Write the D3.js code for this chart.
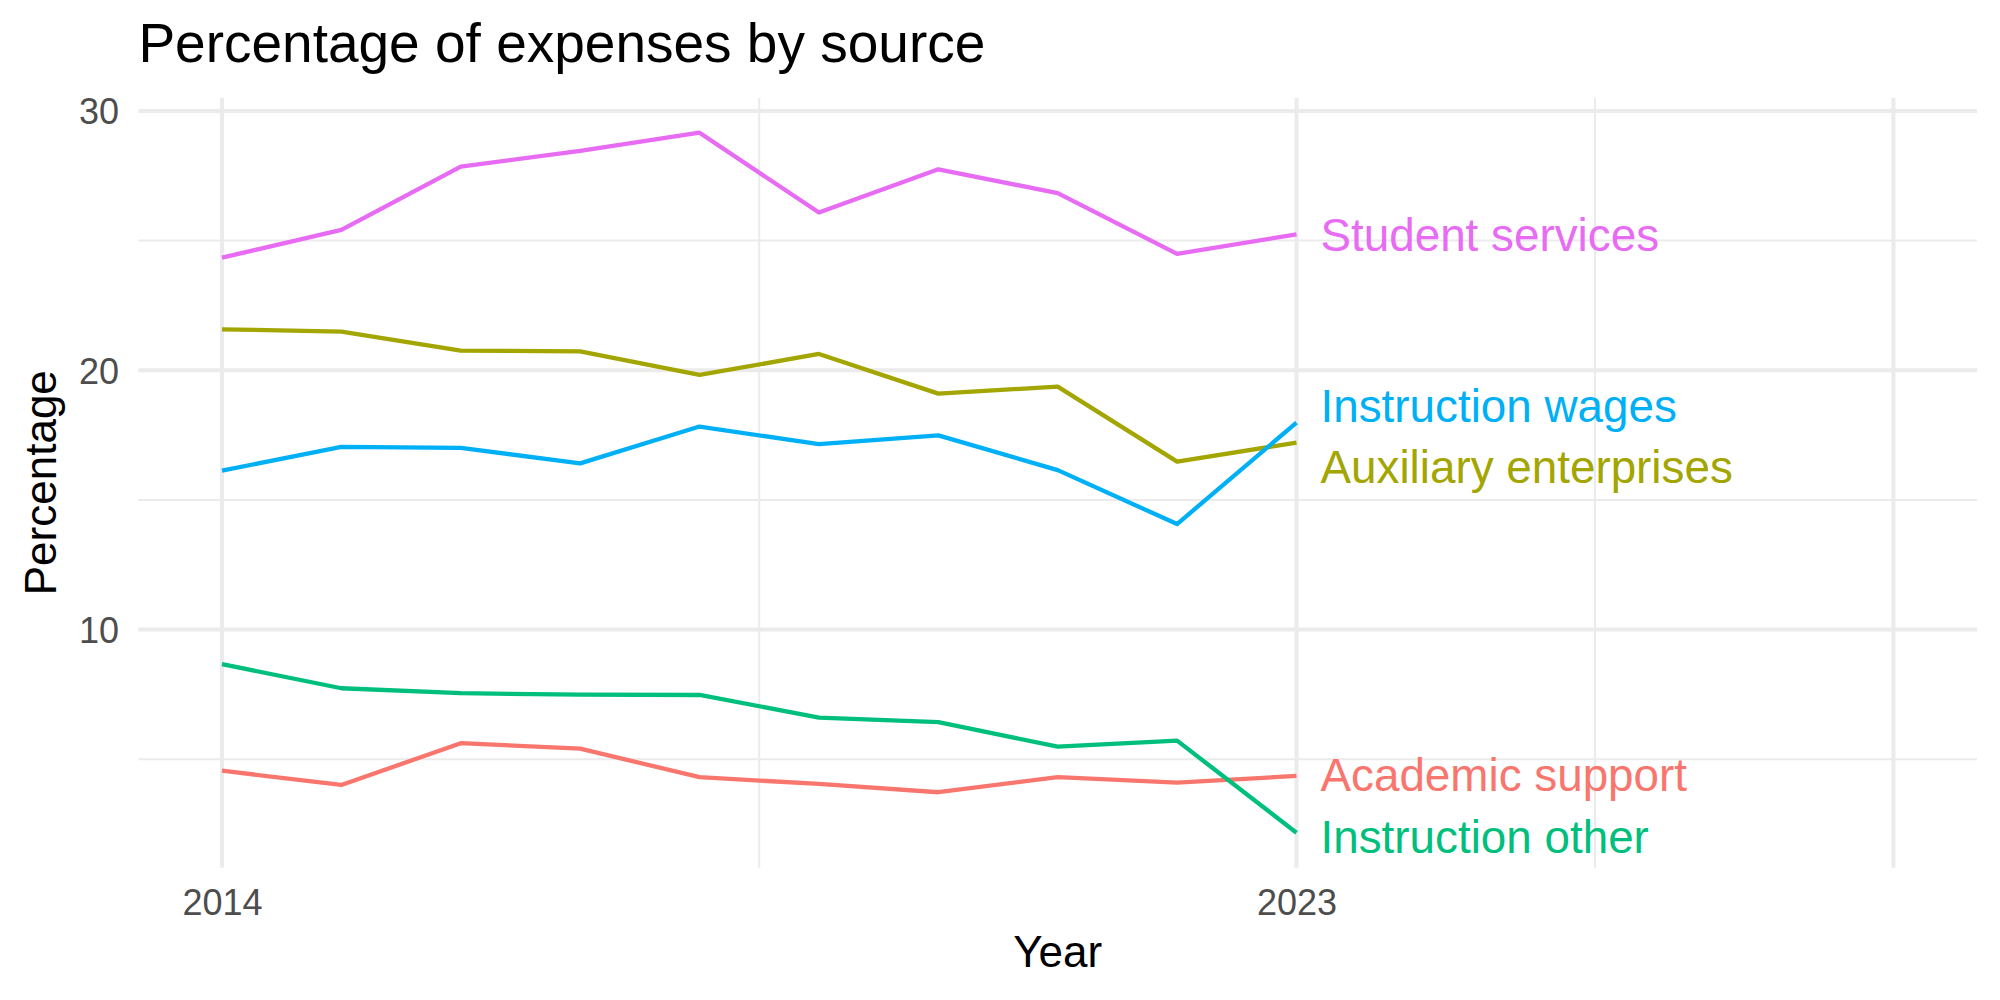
<!DOCTYPE html>
<html>
<head>
<meta charset="utf-8">
<script src="https://cdn.jsdelivr.net/npm/d3@7"></script>
<style>
  body { margin: 0; background: #fff; }
  text { font-family: "Liberation Sans", Arial, sans-serif; }
</style>
</head>
<body>
<svg id="chart" width="2000" height="1000"></svg>
<script>
years = [2014, 2015, 2016, 2017, 2018, 2019, 2020, 2021, 2022, 2023];

seriesNames = ["Academic support", "Auxiliary enterprises", "Instruction other", "Instruction wages", "Student services"];
seriesColors = ["#F8766D", "#A3A500", "#00BF7D", "#00B0F6", "#E76BF3"];

academicSupport = [4.56, 4.01, 5.62, 5.41, 4.31, 4.05, 3.73, 4.31, 4.10, 4.36];
auxiliaryEnterprises = [21.58, 21.49, 20.76, 20.73, 19.82, 20.63, 19.10, 19.37, 16.48, 17.21];
instructionOther = [8.67, 7.74, 7.55, 7.49, 7.48, 6.61, 6.43, 5.49, 5.72, 2.17];
instructionWages = [16.13, 17.05, 17.01, 16.41, 17.83, 17.15, 17.49, 16.15, 14.07, 17.98];
studentServices = [24.34, 25.41, 27.85, 28.46, 29.16, 26.08, 27.75, 26.83, 24.49, 25.24];

// where the repelled end labels sit (value units)
labelValues = [4.40, 16.27, 2.02, 18.66, 25.24];

xBreaks = [2014, 2023, 2028];
xTickLabels = ["2014", "2023", ""];
yBreaks = [10, 20, 30];
yMinorBreaks = [5, 15, 25];

allSeries = [academicSupport, auxiliaryEnterprises, instructionOther, instructionWages, studentServices];

svg = d3.select("#chart");

panelLeft = 138.4; panelRight = 1977;
panelTop = 97.7; panelBottom = 867.7;

xMin = 2014, xMax = 2028;
xPad = (xMax - xMin) * 0.05;
x = d3.scaleLinear().domain([xMin - xPad, xMax + xPad]).range([panelLeft, panelRight]);

allVals = allSeries.flat();
[yLo, yHi] = d3.extent(allVals);
yPad = (yHi - yLo) * 0.05;
y = d3.scaleLinear().domain([yLo - yPad, yHi + yPad]).range([panelBottom, panelTop]);

xMinorBreaks = d3.pairs(xBreaks).map(p => (p[0] + p[1]) / 2);

grid = svg.append("g");

grid.selectAll(".yminor").data(yMinorBreaks).join("line")
    .attr("x1", panelLeft).attr("x2", panelRight)
    .attr("y1", d => y(d)).attr("y2", d => y(d))
    .attr("stroke", "#EBEBEB").attr("stroke-width", 2);

grid.selectAll(".xminor").data(xMinorBreaks).join("line")
    .attr("y1", panelTop).attr("y2", panelBottom)
    .attr("x1", d => x(d)).attr("x2", d => x(d))
    .attr("stroke", "#EBEBEB").attr("stroke-width", 2);

grid.selectAll(".ymajor").data(yBreaks).join("line")
    .attr("x1", panelLeft).attr("x2", panelRight)
    .attr("y1", d => y(d)).attr("y2", d => y(d))
    .attr("stroke", "#EBEBEB").attr("stroke-width", 4);

grid.selectAll(".xmajor").data(xBreaks).join("line")
    .attr("y1", panelTop).attr("y2", panelBottom)
    .attr("x1", d => x(d)).attr("x2", d => x(d))
    .attr("stroke", "#EBEBEB").attr("stroke-width", 4);

// axes (text only, theme_minimal style)
yAxis = d3.axisLeft(y).tickValues(yBreaks).tickSize(0).tickPadding(0);
svg.append("g")
    .attr("transform", `translate(119,0)`)
    .call(yAxis)
    .call(g => g.select(".domain").remove())
    .selectAll("text")
    .attr("fill", "#4D4D4D")
    .attr("font-size", 36)
    .attr("dy", "0.36em")
    .style("font-family", "Liberation Sans, Arial, sans-serif");

xAxis = d3.axisBottom(x).tickValues(xBreaks).tickFormat((d, i) => xTickLabels[i]).tickSize(0).tickPadding(0);
svg.append("g")
    .attr("transform", `translate(0,915)`)
    .call(xAxis)
    .call(g => g.select(".domain").remove())
    .selectAll("text")
    .attr("fill", "#4D4D4D")
    .attr("font-size", 36)
    .attr("dy", 0)
    .attr("y", 0)
    .style("font-family", "Liberation Sans, Arial, sans-serif");

line = d3.line().x((d, i) => x(years[i])).y(d => y(d));

lines = svg.append("g");
allSeries.forEach((vals, k) => {
    lines.append("path")
        .datum(vals)
        .attr("d", line)
        .attr("fill", "none")
        .attr("stroke", seriesColors[k])
        .attr("stroke-width", 4.3)
        .attr("stroke-linejoin", "round");
});

lastYear = years[years.length - 1];
svg.append("g").selectAll("text")
    .data(seriesNames)
    .join("text")
    .text(d => d)
    .attr("x", x(lastYear) + 24)
    .attr("y", (d, i) => y(labelValues[i]))
    .attr("dy", "0.36em")
    .attr("font-size", 45.8)
    .attr("fill", (d, i) => seriesColors[i]);

svg.append("text")
    .text("Percentage of expenses by source")
    .attr("x", panelLeft)
    .attr("y", 62)
    .attr("font-size", 55)
    .attr("fill", "#000");

svg.append("text")
    .text("Year")
    .attr("x", (panelLeft + panelRight) / 2)
    .attr("y", 967)
    .attr("text-anchor", "middle")
    .attr("font-size", 44)
    .attr("fill", "#000");

svg.append("text")
    .text("Percentage")
    .attr("transform", `translate(56, ${(panelTop + panelBottom) / 2}) rotate(-90)`)
    .attr("text-anchor", "middle")
    .attr("font-size", 44)
    .attr("fill", "#000");
</script>
</body>
</html>
